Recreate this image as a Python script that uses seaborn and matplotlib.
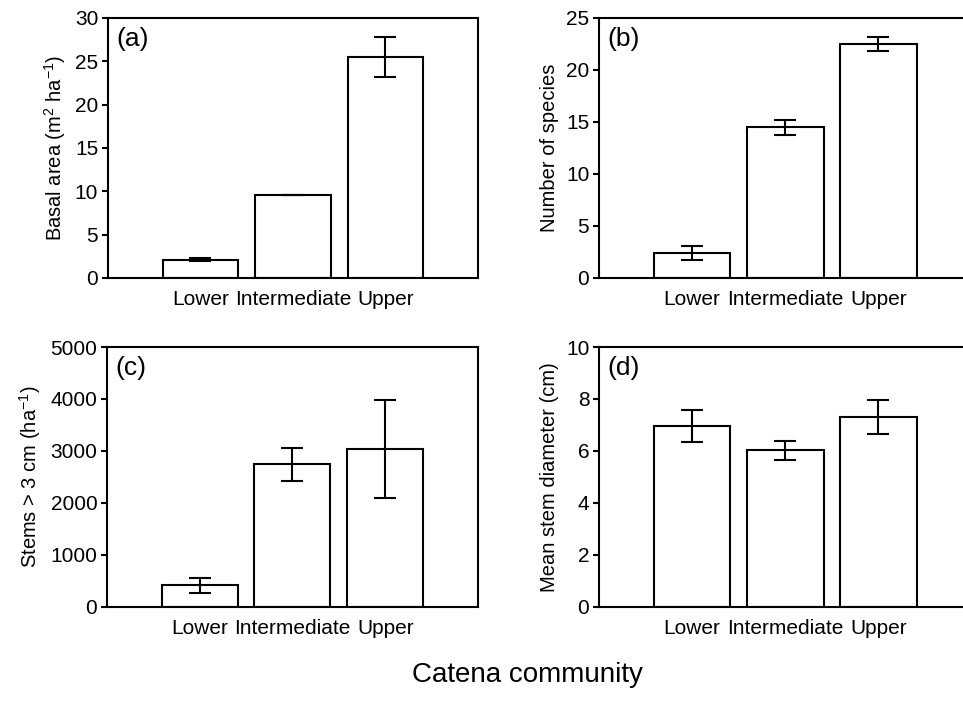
import numpy as np
import pandas as pd
import matplotlib
matplotlib.use('Agg')
import matplotlib.pyplot as plt
import seaborn as sns

sns.set_style('ticks')
plt.rcParams['font.family'] = ['Liberation Sans', 'DejaVu Sans']
plt.rcParams['mathtext.default'] = 'regular'
plt.rcParams['text.color'] = 'black'
plt.rcParams['axes.labelcolor'] = 'black'
plt.rcParams['xtick.color'] = 'black'
plt.rcParams['ytick.color'] = 'black'

communities = ['Lower', 'Intermediate', 'Upper']

basal_area = [2.1, 9.6, 25.5]
basal_area_se = [0.15, 0.02, 2.35]

species = [2.4, 14.5, 22.5]
species_se = [0.7, 0.72, 0.7]

stems = [415, 2745, 3035]
stems_se = [145, 320, 940]

diameter = [6.96, 6.03, 7.32]
diameter_se = [0.6, 0.36, 0.66]

panels = [
    ('(a)', basal_area, basal_area_se, 'Basal area (m$^{2}$ ha$^{-1}$)', 30, 5),
    ('(b)', species, species_se, 'Number of species', 25, 5),
    ('(c)', stems, stems_se, 'Stems > 3 cm (ha$^{-1}$)', 5000, 1000),
    ('(d)', diameter, diameter_se, 'Mean stem diameter (cm)', 10, 2),
]

# axes positions in figure fraction [left, bottom, width, height]
positions = [
    [0.1121, 0.6046, 0.3842, 0.3698],
    [0.6220, 0.6046, 0.3870, 0.3698],
    [0.1111, 0.1366, 0.3852, 0.3698],
    [0.6220, 0.1366, 0.3870, 0.3698],
]

fig = plt.figure(figsize=(9.63, 7.03), dpi=100)

for (tag, vals, errs, ylab, ymax, step), pos in zip(panels, positions):
    ax = fig.add_axes(pos)
    df = pd.DataFrame({'community': communities, 'value': vals})
    sns.barplot(data=df, x='community', y='value', ax=ax, color='white',
                edgecolor='black', linewidth=1.5, width=0.82, errorbar=None)
    xs = np.arange(len(communities))
    ax.errorbar(xs, vals, yerr=errs, fmt='none', ecolor='black',
                elinewidth=1.5, capsize=8, capthick=1.5)
    ax.set_xlim(-1, 3)
    ax.set_ylim(0, ymax)
    ax.set_yticks(np.arange(0, ymax + step / 2, step))
    ax.set_xlabel('')
    ax.set_ylabel(ylab, fontsize=14.5, labelpad=5)
    ax.tick_params(axis='y', direction='out', length=4, width=1.5,
                   labelsize=15, pad=3)
    ax.tick_params(axis='x', length=0, labelsize=15, pad=9)
    for sp in ax.spines.values():
        sp.set_visible(True)
        sp.set_linewidth(1.5)
        sp.set_color('black')
    ax.text(0.022, 0.965, tag, transform=ax.transAxes, ha='left', va='top',
            fontsize=19)

fig.text(0.548, 0.021, 'Catena community', ha='center', va='bottom', fontsize=20)

fig.savefig('out.png', dpi=100, facecolor='white')
